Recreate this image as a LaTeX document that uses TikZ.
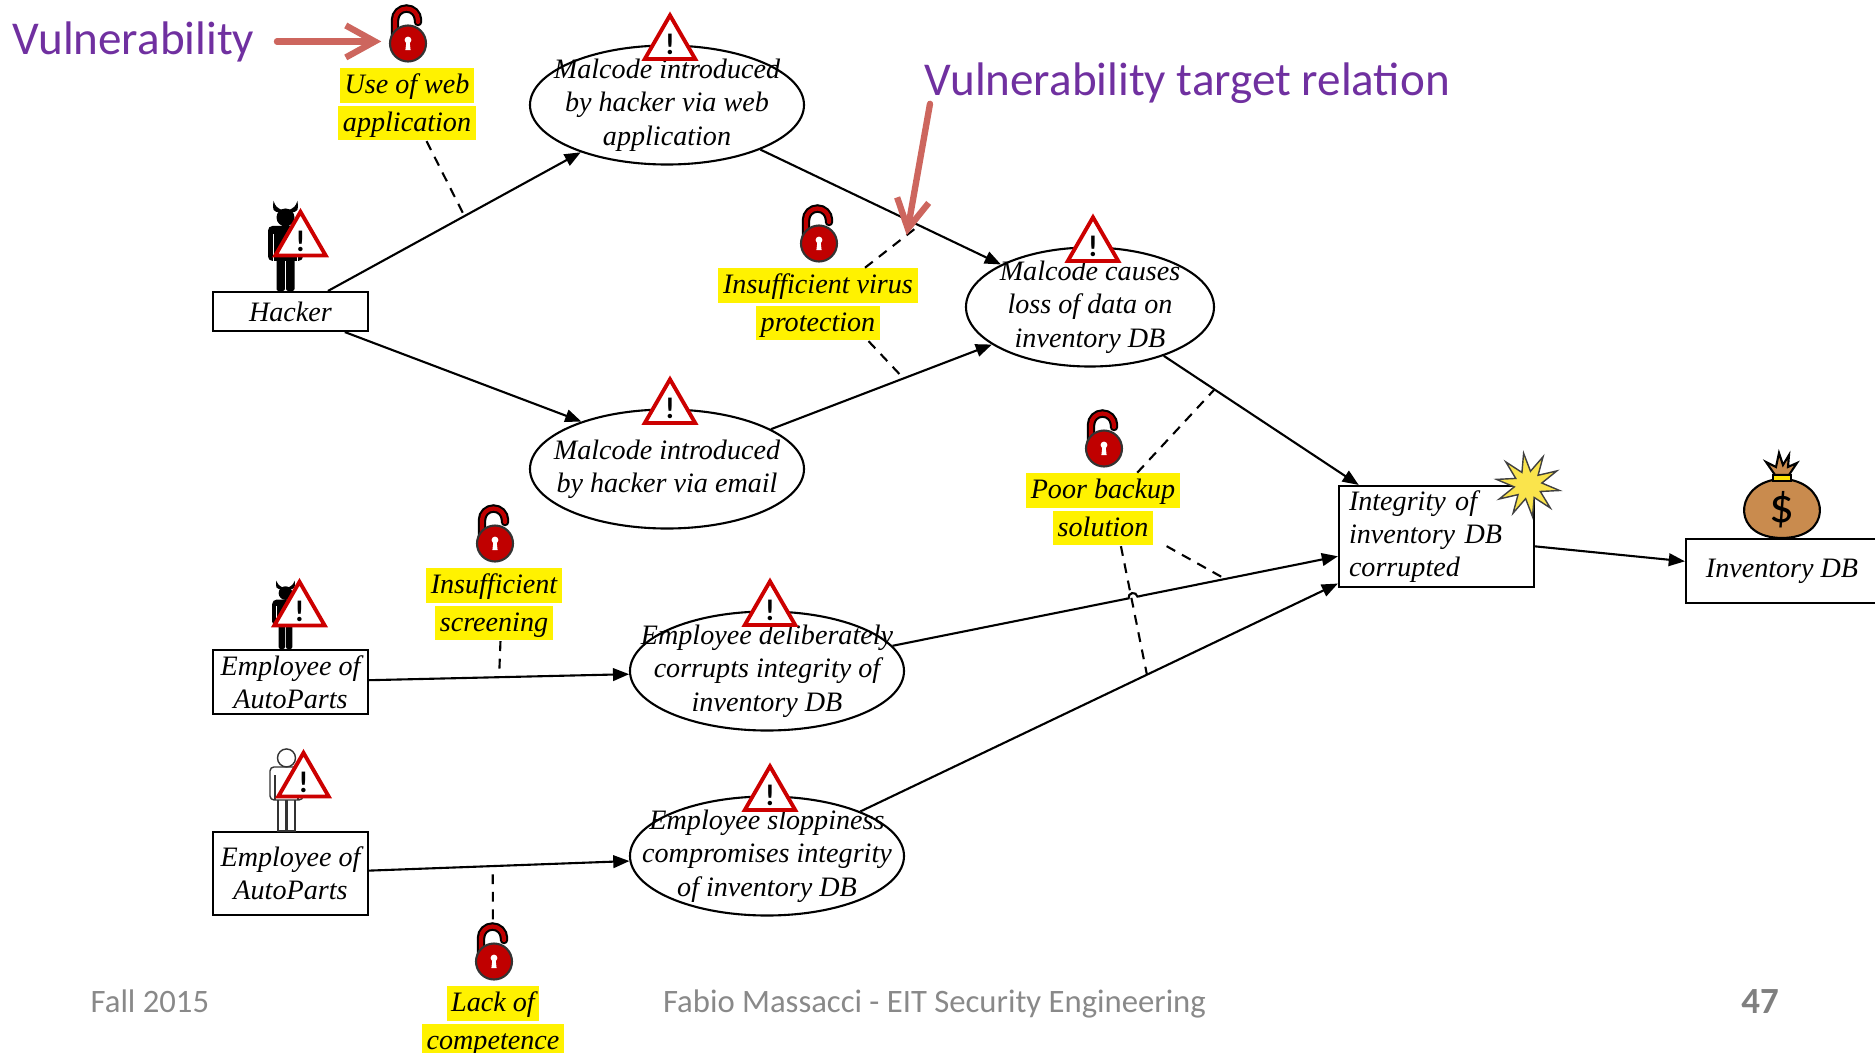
\documentclass[tikz,border=0pt]{standalone}
\usepackage{fontspec}
\setmainfont{Liberation Serif}
\newfontfamily\slidefont{Carlito}
\usetikzlibrary{shapes.geometric,positioning,arrows.meta}

\definecolor{vulpurple}{RGB}{112,48,160}
\definecolor{calloutred}{RGB}{205,102,94}
\definecolor{lockred}{RGB}{192,0,0}
\definecolor{warnred}{RGB}{204,0,0}
\definecolor{footgray}{RGB}{137,137,137}
\definecolor{pagegray}{RGB}{127,127,127}
\definecolor{bagbrown}{RGB}{201,139,78}
\definecolor{boomyellow}{RGB}{250,228,76}

\newcommand{\dfont}{\fontsize{8}{9.5}\selectfont\itshape}
% yellow marker behind one line of a vulnerability
\newcommand{\marker}[1]{{\setlength{\fboxsep}{0pt}\colorbox{yellow}{\rule[-2.6pt]{0pt}{9.7pt}\,#1\,}}}

\tikzset{
  rel/.style={semithick,-{Triangle[length=4.6pt,width=3.6pt]}},
  vul/.style={semithick,dash pattern=on 2.8pt off 2.2pt},
  callout/.style={calloutred,line width=1.8pt,line cap=round,line join=round,-{Straight Barb[length=2.9mm,width=3.2mm]}},
  actor/.style={draw,semithick,minimum width=1.55cm,inner sep=0pt,align=center,font=\dfont},
  threat/.style={ellipse,draw,semithick,minimum width=2.74cm,minimum height=1.19cm,inner sep=0pt},
  threattext/.style={font=\dfont,align=center,inner sep=0pt},
  weak/.style={font=\fontsize{8}{10.8}\selectfont\itshape,align=center,inner sep=0pt},
  warn/.style={regular polygon,regular polygon sides=3,draw=warnred,line width=1.1pt,fill=white,
    minimum size=0.58cm,inner sep=0pt,font=\slidefont\bfseries\fontsize{8.5}{8.5}\selectfont},
  lock/.style={minimum width=0.5cm,minimum height=0.62cm,inner sep=0pt,
    path picture={
      \begin{scope}[shift={(path picture bounding box.center)}]
        \draw[line width=2.4pt,line cap=round] (-0.12,-0.05) -- (-0.12,0.13) arc[start angle=180,end angle=0,radius=0.115] -- ++(0,-0.02);
        \draw[line width=1.2pt,line cap=round,lockred] (-0.12,-0.05) -- (-0.12,0.13) arc[start angle=180,end angle=0,radius=0.115] -- ++(0,-0.02);
        \filldraw[fill=lockred,draw=black!80,semithick] (0.01,-0.105) circle[radius=0.18];
        \fill[white] (0.01,-0.07) circle[radius=0.034];
        \fill[white] (-0.006,-0.085) -- (0.026,-0.085) -- (0.036,-0.17) -- (-0.016,-0.17) -- cycle;
      \end{scope}}},
  boom/.style={star,star points=10,star point ratio=2.3,draw=black!75,fill=boomyellow,minimum size=0.64cm,inner sep=0pt,rotate=8},
  slide/.style={font=\slidefont\fontsize{13.4}{16}\selectfont,text=vulpurple,inner sep=0pt},
  foot/.style={font=\slidefont\fontsize{9.3}{11}\selectfont,text=footgray,inner sep=0pt},
  devil/.pic={
    \fill[rounded corners=0.2mm] (-0.09,0) rectangle (-0.006,0.37);
    \fill[rounded corners=0.2mm] (0.006,0) rectangle (0.09,0.37);
    \fill[rounded corners=0.45mm] (-0.175,0.30) rectangle (0.175,0.65);
    \draw[white,line width=0.3pt] (-0.12,0.30) -- (-0.12,0.57) (0.12,0.30) -- (0.12,0.57);
    \fill (0,0.735) circle[radius=0.09];
    \fill (-0.05,0.78) .. controls (-0.13,0.80) .. (-0.12,0.9) .. controls (-0.095,0.84) .. (-0.02,0.80) -- cycle;
    \fill (0.05,0.78) .. controls (0.13,0.80) .. (0.12,0.9) .. controls (0.095,0.84) .. (0.02,0.80) -- cycle;
  },
  person/.pic={
    \begin{scope}[draw=black!80,fill=white,line width=0.4pt]
      \filldraw (-0.085,0) rectangle (-0.005,0.37);
      \filldraw (0.005,0) rectangle (0.085,0.37);
      \filldraw[rounded corners=0.4mm] (-0.165,0.31) rectangle (0.165,0.64);
      \draw (-0.115,0.31) -- (-0.115,0.56) (0.115,0.31) -- (0.115,0.56);
      \filldraw (0,0.73) circle[radius=0.09];
    \end{scope}
  },
  bag/.pic={
    \filldraw[fill=bagbrown,semithick] (-0.09,0.58) .. controls (-0.48,0.50) and (-0.50,0.0) .. (0,0.0)
      .. controls (0.50,0.0) and (0.48,0.50) .. (0.09,0.58) -- cycle;
    \filldraw[fill=bagbrown,semithick] (-0.07,0.63) -- (-0.16,0.76) -- (-0.06,0.71) -- (-0.03,0.85) -- (0.01,0.73)
      -- (0.07,0.83) -- (0.06,0.71) -- (0.15,0.75) -- (0.07,0.63) -- cycle;
    \filldraw[fill=yellow!85!orange,thin] (-0.09,0.57) rectangle (0.09,0.63);
    \node (sign) at (0,0.28) {\slidefont\fontsize{14}{14}\selectfont\$};
  }
}

\begin{document}
\begin{tikzpicture}
  \useasboundingbox (0,0) rectangle (18.75,-10.53);

  % actors
  \node[actor,minimum height=0.39cm] (hacker) at (2.905,-3.115) {Hacker};
  \node[actor,minimum height=0.64cm] (insider) at (2.905,-6.82) {Employee of\\AutoParts};
  \node[actor,minimum height=0.83cm] (staff) at (2.905,-8.735) {Employee of\\AutoParts};

  % threat scenarios
  \node[threat,label={[threattext]center:Malcode introduced\\by hacker via web\\application}] (thweb) at (6.67,-1.05) {};
  \node[threat,label={[threattext]center:Malcode introduced\\by hacker via email}] (thmail) at (6.67,-4.69) {};
  \node[threat,minimum width=2.48cm,label={[threattext]center:Malcode causes\\loss of data on\\inventory DB}] (thloss) at (10.90,-3.07) {};
  \node[threat,label={[threattext]center:Employee deliberately\\corrupts integrity of\\inventory DB}] (thcorrupt) at (7.67,-6.71) {};
  \node[threat,label={[threattext]center:Employee sloppiness\\compromises integrity\\of inventory DB}] (thsloppy) at (7.67,-8.56) {};

  % incident and asset
  \node[actor,minimum width=1.95cm,minimum height=1.01cm,text width=1.75cm,align=left] (integ) at (14.365,-5.365) {Integrity of\\inventory DB\\corrupted};
  \node[actor,minimum width=1.92cm,minimum height=0.64cm] (invdb) at (17.82,-5.71) {Inventory DB};

  % relations
  \draw[rel] (hacker) -- coordinate[pos=0.54] (webrel) (thweb);
  \draw[rel] (hacker) -- (thmail.151);
  \draw[rel] (thweb) -- coordinate[pos=0.66] (virtop) (thloss);
  \draw[rel] (thmail) -- coordinate[pos=0.6] (virbot) (thloss);
  \draw[rel] (thloss) -- coordinate[pos=0.26] (bakA) (integ);
  \draw[rel] (insider) -- coordinate[pos=0.5] (scrrel) (thcorrupt);
  \draw[rel] (staff) -- coordinate[pos=0.475] (lackrel) (thsloppy);
  \draw[rel] (thcorrupt) -- coordinate[pos=0.54] (hop) coordinate[pos=0.747] (bakB) (integ);
  \draw[rel] (thsloppy) -- coordinate[pos=0.6] (bakC) (integ);
  \draw[rel] (integ) -- (invdb);

  % line hop over the dashed line
  \begin{scope}[shift={(hop)},rotate=11.3]
    \fill[white] (-0.06,-0.02) rectangle (0.06,0.02);
    \draw[semithick] (-0.065,0) -- (-0.045,0) arc[start angle=180,end angle=0,radius=0.045] -- (0.065,0);
  \end{scope}

  % icons
  \pic at ([xshift=-0.5mm]hacker.north) {devil};
  \node[warn] (hacker-w) at ([shift={(0.1,0.5)}]hacker.north) {!};
  \pic[scale=0.76] at ([xshift=-0.5mm]insider.north) {devil};
  \node[warn,minimum size=0.52cm] (insider-w) at ([shift={(0.09,0.38)}]insider.north) {!};
  \pic at ([xshift=-0.4mm]staff.north) {person};
  \node[warn] (staff-w) at ([shift={(0.13,0.49)}]staff.north) {!};
  \foreach \t in {thweb,thmail,thloss,thcorrupt,thsloppy}
    \node[warn] (\t-w) at ([xshift=0.3mm]\t.north) {!};
  \pic at (invdb.north) {bag};
  \node[boom] (boom) at ([xshift=-0.7mm]integ.north east) {};

  % vulnerabilities
  \node[lock] (lk1) at (4.07,-0.33) {};
  \node[weak,below=0.3mm of lk1] (useweb) {\marker{Use of web}\\\marker{application}};
  \node[lock] (lk2) at (8.18,-2.33) {};
  \node[weak,below=0.3mm of lk2] (virus) {\marker{Insufficient virus}\\\marker{protection}};
  \node[lock] (lk3) at (11.03,-4.38) {};
  \node[weak,below=0.3mm of lk3] (backup) {\marker{Poor backup}\\\marker{solution}};
  \node[lock] (lk4) at (4.94,-5.33) {};
  \node[weak,below=0.3mm of lk4] (screen) {\marker{Insufficient}\\\marker{screening}};
  \node[lock] (lk5) at (4.93,-9.51) {};
  \node[weak,below=0.3mm of lk5] (lack) {\marker{Lack of}\\\marker{competence}};

  \draw[vul] (virus.38) -- coordinate[pos=0.77] (vtrtip) (virtop);
  \foreach \a/\b in {useweb.-62/webrel,virus.-36/virbot,backup.47/bakA,backup.-30/bakB,
                     backup.-64/bakC,screen.-80/scrrel,lk5/lackrel}
    \draw[vul] (\a) -- (\b);

  % slide annotations
  \node[slide,anchor=base west] (vul) at (0.12,-0.54) {Vulnerability};
  \draw[callout,shorten <=2.2mm] (vul.east) -- (vul.east -| lk1.west);
  \node[slide,anchor=base west] (vtr) at (9.24,-0.95) {Vulnerability target relation};
  \draw[callout] ([xshift=0.6mm]vtr.south west) -- (vtrtip);

  % footer
  \node[foot,anchor=base west] (term) at (0.90,-10.12) {Fall 2015};
  \node[foot,anchor=base] (credit) at (9.345,-10.12) {Fabio Massacci - EIT Security Engineering};
  \node[foot,anchor=base,text=pagegray,font=\slidefont\bfseries\fontsize{10.5}{12}\selectfont] (page) at (17.60,-10.13) {47};
\end{tikzpicture}
\end{document}
